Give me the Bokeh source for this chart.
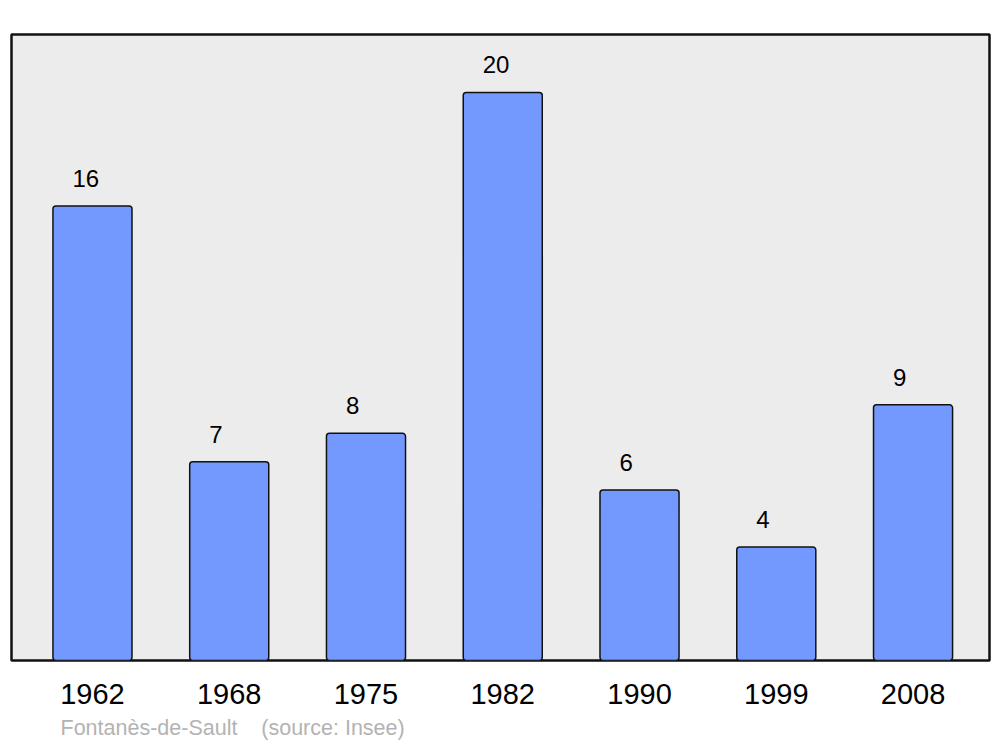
from bokeh.plotting import figure
from bokeh.models import ColumnDataSource, LabelSet, FixedTicker, Range1d, Title
from bokeh.core.properties import value
from bokeh.embed import file_html
from bokeh.resources import INLINE

years = ["1962", "1968", "1975", "1982", "1990", "1999", "2008"]
population = [16, 7, 8, 20, 6, 4, 9]
source_text = "Fontanès-de-Sault\u00a0\u00a0\u00a0\u00a0(source: Insee)"

xs = list(range(len(years)))
src = ColumnDataSource(dict(x=xs, top=population, label=[str(v) for v in population]))

p = figure(width=992, height=747, output_backend="svg", toolbar_location=None,
           x_range=Range1d(-0.592, 6.559), y_range=Range1d(0, 22.04),
           y_axis_location=None,
           min_border_left=11, min_border_right=3, min_border_top=34, min_border_bottom=87)

p.background_fill_color = "#ececec"
p.border_fill_color = "white"
p.outline_line_color = "#111111"
p.outline_line_width = 2.5
p.xgrid.visible = False
p.ygrid.visible = False

p.vbar(x="x", top="top", bottom=0, width=0.578, source=src,
       fill_color="#7399ff", line_color="#111111", line_width=1.5, border_radius=3)

labels = LabelSet(x="x", y="top", text="label", source=src, x_offset=-20, y_offset=19,
                  text_align="left", text_baseline="alphabetic",
                  text_font=value("Liberation Sans"), text_font_size=value("24px"),
                  text_color=value("black"))
p.add_layout(labels)

ax = p.xaxis[0]
ax.ticker = FixedTicker(ticks=xs)
ax.major_label_overrides = {i: y for i, y in zip(xs, years)}
ax.major_label_text_font = "Liberation Sans"
ax.major_label_text_font_size = "29px"
ax.major_label_text_color = "black"
ax.major_label_standoff = 17
ax.axis_line_color = None
ax.major_tick_line_color = None
ax.minor_tick_line_color = None

p.add_layout(Title(text=source_text, align="left", offset=49, standoff=14,
                   text_font="Liberation Sans", text_font_size="21.5px",
                   text_font_style="normal", text_color="#b3b3b3"), "below")

open("out.html", "w").write(file_html(p, INLINE))
